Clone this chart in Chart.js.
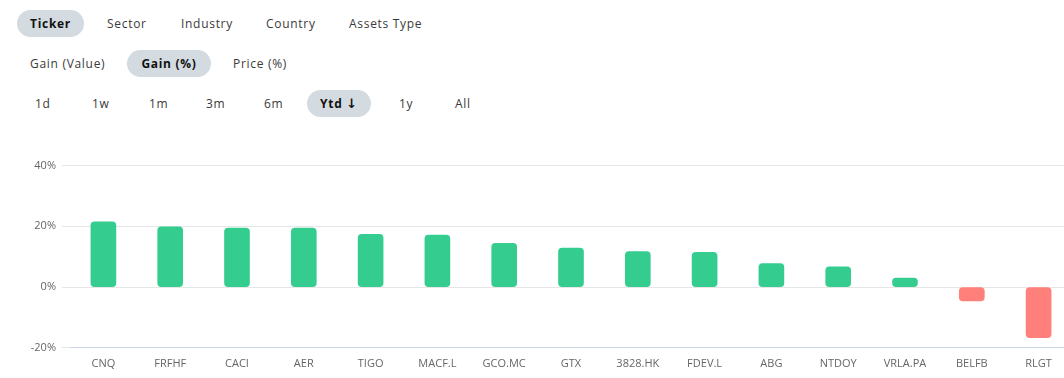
<!DOCTYPE html>
<html>
<head>
<meta charset="utf-8">
<script src="https://cdn.jsdelivr.net/npm/chart.js@4"></script>
<style>
  html, body { margin: 0; padding: 0; background: #fff; overflow: hidden; width: 1064px; height: 378px; }
  body { position: relative; font-family: "Open Sans", "Noto Sans", sans-serif; color: #3a3a3a; }
  .btn { position: absolute; font-size: 12px; letter-spacing: 0.7px; height: 27px; line-height: 28px; white-space: nowrap; }
  .pill { background: #d3dbe1; border-radius: 14px; font-weight: 700; color: #111; text-align: center; }
  .arrow { font-family: "DejaVu Sans", sans-serif; font-size: 13px; font-weight: 700; }
  #wrap { position: absolute; left: 0; top: 153px; width: 1072px; height: 218px; }
</style>
</head>
<body>
  <div class="btn pill" style="left:17px;top:10px;width:67px;">Ticker</div>
  <div class="btn" style="left:107px;top:10px;">Sector</div>
  <div class="btn" style="left:181px;top:10px;">Industry</div>
  <div class="btn" style="left:266px;top:10px;">Country</div>
  <div class="btn" style="left:349px;top:10px;">Assets Type</div>

  <div class="btn" style="left:30px;top:50px;">Gain (Value)</div>
  <div class="btn pill" style="left:127px;top:50px;width:84px;">Gain (%)</div>
  <div class="btn" style="left:233px;top:50px;">Price (%)</div>

  <div class="btn" style="left:35px;top:90px;">1d</div>
  <div class="btn" style="left:92px;top:90px;">1w</div>
  <div class="btn" style="left:149px;top:90px;">1m</div>
  <div class="btn" style="left:206px;top:90px;">3m</div>
  <div class="btn" style="left:264px;top:90px;">6m</div>
  <div class="btn pill" style="left:307px;top:90px;width:64px;">Ytd <span class="arrow">&#8595;</span></div>
  <div class="btn" style="left:399px;top:90px;">1y</div>
  <div class="btn" style="left:455px;top:90px;">All</div>

  <div id="wrap"><canvas id="GainChart"></canvas></div>

<script>
const tickers = ["CNQ", "FRFHF", "CACI", "AER", "TIGO", "MACF.L", "GCO.MC", "GTX", "3828.HK", "FDEV.L", "ABG", "NTDOY", "VRLA.PA", "BELFB", "RLGT"];
const gainPct = [21.5, 19.8, 19.4, 19.4, 17.4, 17.1, 14.4, 12.8, 11.7, 11.4, 7.7, 6.7, 3.0, -4.6, -16.7];
const yTicks = [-20, 0, 20, 40];

const upColor = "#34cd8f";
const downColor = "#ff7f7a";

function CreateChart() {
    var ctx = document.getElementById('GainChart');

    new Chart(ctx, {
        type: 'bar',
        data: {
            labels: tickers,
            datasets: [
                {
                    label: "Gain (%)",
                    data: gainPct,
                    backgroundColor: gainPct.map(v => v >= 0 ? upColor : downColor),
                    borderRadius: 4,
                    borderSkipped: false,
                    barThickness: 25,
                },
            ]
        },
        options: {
            responsive: true,
            maintainAspectRatio: false,
            animation: false,
            layout: { padding: { top: 7, right: 0, left: 0, bottom: 0 } },
            plugins: {
                legend: { display: false },
                tooltip: { enabled: false },
            },
            scales: {
                x: {
                    grid: { display: false },
                    border: { color: "#ccd6eb" },
                    ticks: { color: "#666", font: { size: 11, family: "Open Sans" }, maxRotation: 0, autoSkip: false, padding: 1 },
                },
                y: {
                    min: yTicks[0],
                    max: yTicks[yTicks.length - 1],
                    afterBuildTicks: axis => { axis.ticks = yTicks.map(v => ({ value: v })); },
                    grid: { color: "#e6e6e6" },
                    border: { display: false },
                    afterFit: axis => { axis.width = 70; },
                    ticks: {
                        color: "#666",
                        font: { size: 11, family: "Open Sans" },
                        padding: 6,
                        callback: v => v + "%",
                    },
                }
            }
        }
    });
}

CreateChart();
</script>
</body>
</html>
